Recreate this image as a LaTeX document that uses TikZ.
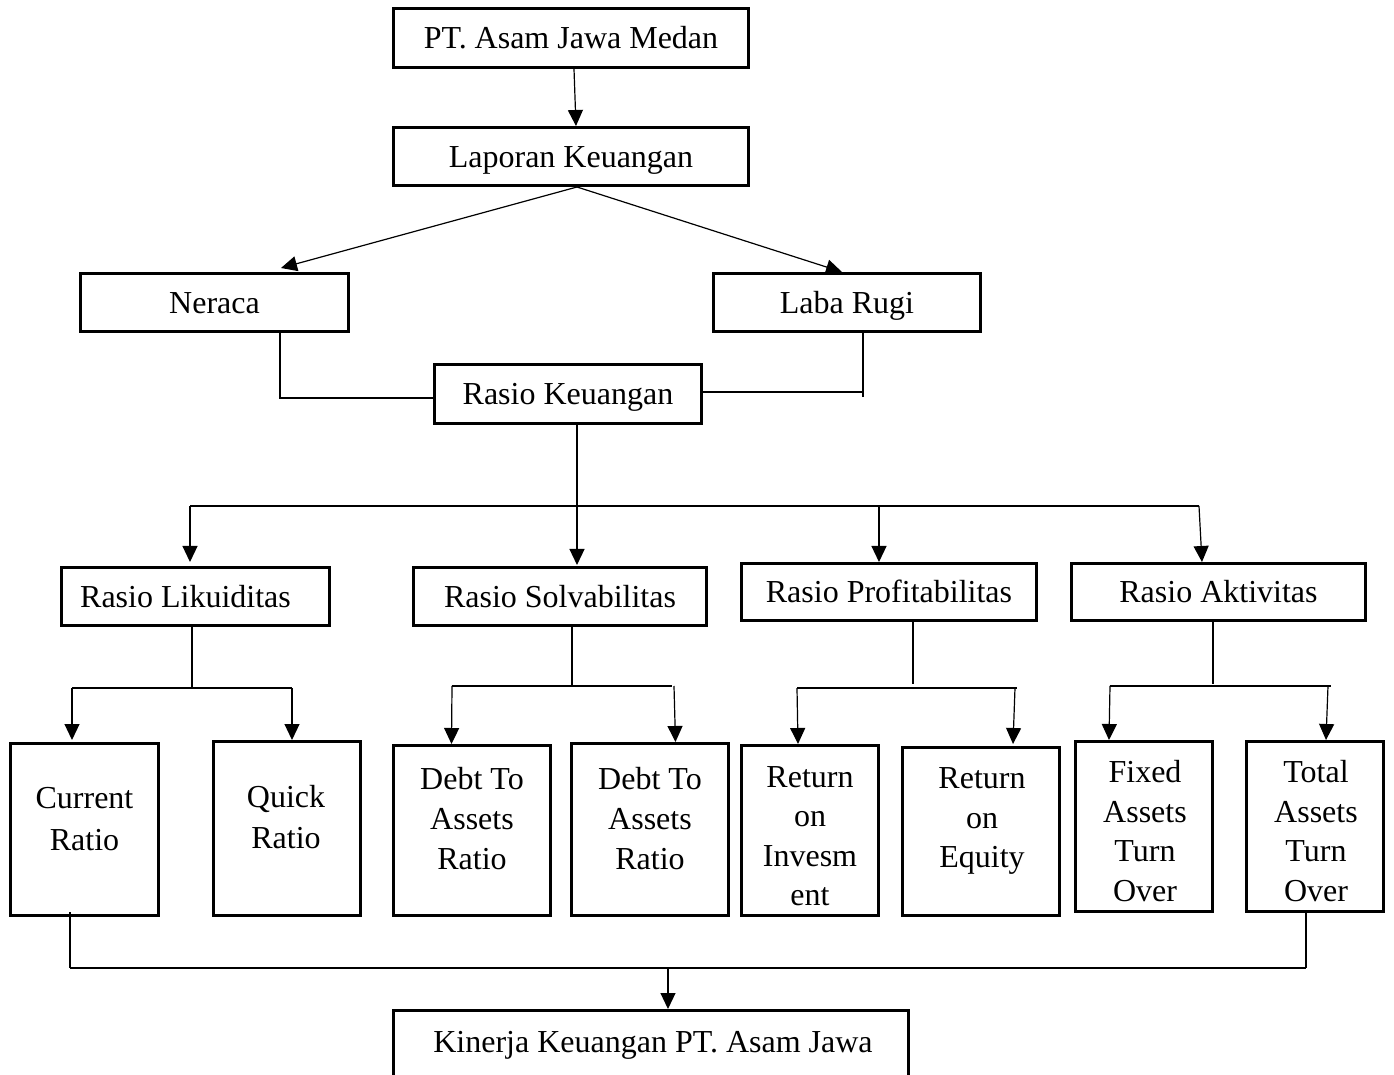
\documentclass[tikz,border=0pt]{standalone}
\usepackage{fontspec}
\setmainfont{Liberation Serif}
\usetikzlibrary{arrows.meta,calc}
\begin{document}
\begin{tikzpicture}[x=0.5pt,y=-0.5pt,
  box/.style={draw, line width=1.3pt, inner sep=0pt, text height=12.5pt, text depth=1.5pt, font=\fontsize{16}{20}\selectfont},
  txt/.style={inner sep=0pt, align=center, font=\fontsize{16}{20}\selectfont},
  conn/.style={line width=0.6pt},
  arr/.style={conn, -{Triangle[length=8pt,width=7.5pt]}}]
\useasboundingbox (0,0) rectangle (1394,1075);
\fill[white] (0,0) rectangle (1394,1075);
\clip (0,0) rectangle (1394,1075);

% top boxes
\node[box, minimum width=177.7pt, minimum height=29.7pt] (pt) at (571,38) {PT. Asam Jawa Medan};
\node[box, minimum width=177.7pt, minimum height=29.2pt] (lap) at (571,156.5) {Laporan Keuangan};
\node[box, minimum width=134.2pt, minimum height=29.2pt] (ner) at (214.5,302.5) {Neraca};
\node[box, minimum width=133.7pt, minimum height=29.2pt] (lab) at (847,302.5) {Laba Rugi};
\node[box, minimum width=133.7pt, minimum height=29.7pt] (rk) at (568,394) {Rasio Keuangan};

% ratio groups
\node[box, minimum width=134.2pt, minimum height=29.2pt] (rl) at (195.5,596.5) {Rasio Likuiditas\rule{10pt}{0pt}};
\node[box, minimum width=146.7pt, minimum height=29.2pt] (rs) at (560,596.5) {Rasio Solvabilitas};
\node[box, minimum width=147.7pt, minimum height=28.7pt] (rp) at (889,592) {Rasio Profitabilitas};
\node[box, minimum width=147.2pt, minimum height=28.7pt] (ra) at (1218.5,592) {Rasio Aktivitas};

% tall boxes
\node[box, minimum width=74.2pt, minimum height=86.2pt] (cr) at (84.5,829.5) {};
\node[box, minimum width=73.7pt, minimum height=87.2pt] (qr) at (287,828.5) {};
\node[box, minimum width=78.7pt, minimum height=85.2pt] (d1) at (472,830.5) {};
\node[box, minimum width=78.7pt, minimum height=86.2pt] (d2) at (650,829.5) {};
\node[box, minimum width=68.7pt, minimum height=85.2pt] (ri) at (810,830.5) {};
\node[box, minimum width=78.7pt, minimum height=84.2pt] (re) at (981,831.5) {};
\node[box, minimum width=68.7pt, minimum height=85.2pt] (fa) at (1144,826.5) {};
\node[box, minimum width=68.7pt, minimum height=85.2pt] (ta) at (1315,826.5) {};

\node[txt, font=\fontsize{16}{21}\selectfont] (crt) at (84.5,819) {Current\\Ratio};
\node[txt, font=\fontsize{16}{20.5}\selectfont] (qrt) at (286,817.5) {Quick\\Ratio};
\node[txt] (d1t) at (472,819) {Debt To\\Assets\\Ratio};
\node[txt] (d2t) at (650,819) {Debt To\\Assets\\Ratio};
\node[txt, font=\fontsize{16}{19.7}\selectfont] (rit) at (810,836) {Return\\on\\Invesm\\ent};
\node[txt, font=\fontsize{16}{19.7}\selectfont] (ret) at (982,821) {Return\\on\\Equity};
\node[txt, font=\fontsize{16}{19.7}\selectfont] (fat) at (1145,831) {Fixed\\Assets\\Turn\\Over};
\node[txt, font=\fontsize{16}{19.7}\selectfont] (tat) at (1316,831) {Total\\Assets\\Turn\\Over};

% bottom box
\node[box, minimum width=257.7pt, minimum height=44.2pt] (kin) at (651,1054.5) {};
\node[txt] (kint) at (653,1045) {Kinerja Keuangan PT. Asam Jawa};

% connectors top
\draw[arr] ([xshift=1.5pt]pt.south) -- ([xshift=2.5pt]lap.north);
\draw[arr] ([xshift=3pt]lap.south) -- ([xshift=33.25pt,yshift=2pt]ner.north);
\draw[arr] ([xshift=3pt]lap.south) -- ([xshift=-2.5pt]lab.north);

\draw[conn] ([xshift=32.75pt]ner.south) |- ([yshift=-2pt]rk.west);
\coordinate (lbb) at (863,397);
\coordinate (lbh) at (863,392);
\draw[conn] ([xshift=8pt]lab.south) -- (lbb);
\draw[conn] ([yshift=1pt]rk.east) -- (lbh);

% main bus
\draw[arr] ([xshift=4.5pt]rk.south) -- ([xshift=8.5pt,yshift=0.5pt]rs.north);
\coordinate (busL) at (190,506);
\coordinate (busR) at (1199,506);
\draw[conn] (busL) -- (busR);
\draw[arr] (busL) -- ([xshift=-2.75pt,yshift=2pt]rl.north);
\draw[arr] ([xshift=-5pt]rp.north |- busL) -- ([xshift=-5pt]rp.north);
\draw[arr] (busR) -- ([xshift=-8.25pt]ra.north);

% Likuiditas
\coordinate (lL) at (72,688);
\coordinate (lR) at (292,688);
\draw[conn] ([xshift=-1.75pt]rl.south) -- ([xshift=-1.75pt]rl.south |- lL);
\draw[conn] (lL) -- (lR);
\draw[arr] (lL) -- ([xshift=-6.25pt,yshift=1pt]cr.north);
\draw[arr] (lR) -- ([xshift=2.5pt]qr.north);

% Solvabilitas
\coordinate (sL) at (452,686);
\coordinate (sR) at (672,686);
\draw[conn] ([xshift=6pt]rs.south) -- ([xshift=6pt]rs.south |- sL);
\draw[conn] (sL) -- (sR);
\draw[arr] (sL) -- ([xshift=-10.25pt]d1.north);
\draw[arr] ([xshift=1pt]sR) -- ([xshift=12.75pt]d2.north);

% Profitabilitas
\coordinate (pL) at (797,688);
\coordinate (pR) at (1017,688);
\draw[conn] ([xshift=12pt]rp.south) -- ([xshift=12pt,yshift=2pt]rp.south |- pL);
\draw[conn] (pL) -- (pR);
\draw[arr] (pL) -- ([xshift=-6pt]ri.north);
\draw[arr] ([xshift=-1pt]pR) -- ([xshift=16pt,yshift=1pt]re.north);

% Aktivitas
\coordinate (aL) at (1110,686);
\coordinate (aR) at (1331,686);
\draw[conn] ([xshift=-2.75pt]ra.south) -- ([xshift=-2.75pt,yshift=1pt]ra.south |- aL);
\draw[conn] (aL) -- (aR);
\draw[arr] (aL) -- ([xshift=-17.5pt]fa.north);
\draw[arr] ([xshift=-1.5pt]aR) -- ([xshift=5.5pt]ta.north);

% bottom bus
\coordinate (bL) at (70,968);
\coordinate (bR) at (1306,968);
\draw[conn] ([xshift=-7.25pt,yshift=2.5pt]cr.south) -- (bL);
\draw[conn] ([xshift=-4.5pt]ta.south) -- (bR);
\draw[conn, line width=0.8pt] (bL) -- (bR);
\draw[arr] ([xshift=8.5pt]kin.north |- bL) -- ([xshift=8.5pt]kin.north);
\end{tikzpicture}
\end{document}
